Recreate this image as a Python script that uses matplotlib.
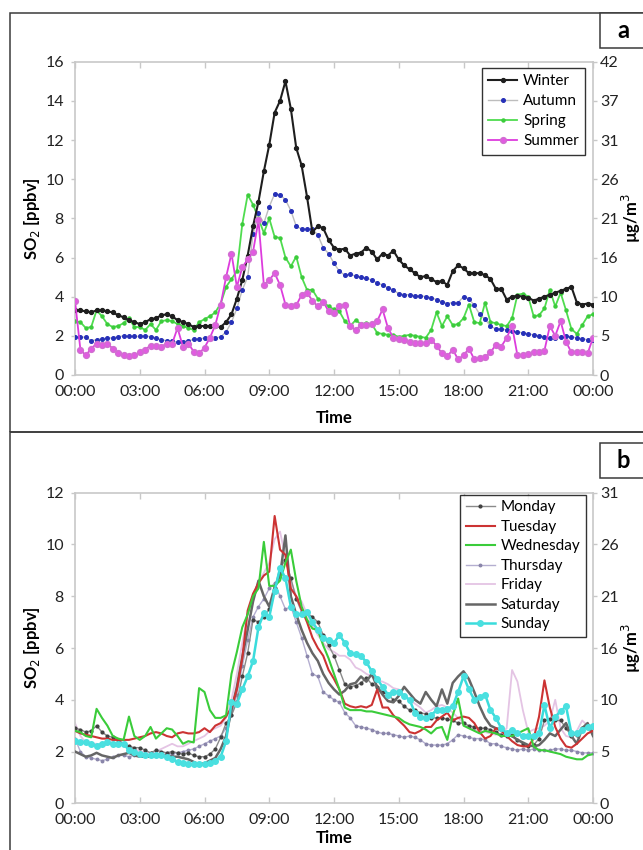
import matplotlib
matplotlib.use("Agg")
import matplotlib.pyplot as plt
from matplotlib.patches import Rectangle
import numpy as np

plt.rcParams['font.family'] = ['Lato', 'DejaVu Sans']

# 15-minute samples from 00:00 to 24:00 (97 points), SO2 in ppbv
times = np.arange(97) * 0.25
xtick_pos = [0, 3, 6, 9, 12, 15, 18, 21, 24]
xtick_labels = ['00:00', '03:00', '06:00', '09:00', '12:00', '15:00', '18:00', '21:00', '00:00']

# ---- panel a: seasons
winter = [3.3, 3.3, 3.25, 3.2, 3.3, 3.3, 3.25, 3.2, 3.05, 2.95, 2.8, 2.7,
          2.6, 2.7, 2.85, 2.9, 3.05, 3.1, 3.0, 2.8, 2.7, 2.6, 2.45, 2.5,
          2.5, 2.5, 2.5, 2.45, 2.7, 3.1, 3.9, 4.85, 6.1, 7.6, 8.85, 10.4,
          11.75, 13.4, 14.0, 15.0, 13.6, 11.6, 10.7, 9.1, 7.3, 7.6, 7.5, 6.9,
          6.5, 6.4, 6.45, 6.1, 6.2, 6.25, 6.5, 6.3, 5.9, 6.2, 6.1, 6.35,
          5.9, 5.6, 5.4, 5.2, 5.0, 5.05, 4.9, 4.75, 4.8, 4.6, 5.3, 5.6,
          5.45, 5.2, 5.2, 5.2, 5.1, 4.9, 4.4, 4.4, 3.85, 4.0, 4.05, 4.0,
          3.95, 3.8, 3.9, 4.0, 4.1, 4.2, 4.3, 4.4, 4.5, 3.7, 3.6, 3.65, 3.6]
autumn = [1.95, 1.95, 1.92, 1.75, 1.8, 1.85, 1.87, 1.9, 1.95, 2.0, 1.97, 1.97,
          1.97, 2.0, 1.95, 1.9, 1.8, 1.75, 1.72, 1.68, 1.7, 1.75, 1.82, 1.86,
          1.87, 1.88, 1.88, 1.95, 2.2, 2.7, 3.4, 4.35, 5.0, 7.2, 8.25, 7.75,
          8.6, 9.25, 9.2, 8.95, 8.4, 7.6, 7.45, 7.45, 7.45, 7.15, 6.5, 6.2,
          5.7, 5.3, 5.1, 5.15, 5.05, 5.0, 4.95, 4.85, 4.7, 4.6, 4.45, 4.35,
          4.15, 4.1, 4.1, 4.05, 4.05, 4.0, 3.95, 3.85, 3.75, 3.65, 3.7, 3.7,
          4.0, 3.9, 3.55, 3.1, 2.85, 2.5, 2.35, 2.35, 2.3, 2.25, 2.2, 2.15,
          2.1, 2.05, 2.0, 1.95, 1.9, 1.9, 1.95, 1.98, 1.95, 1.9, 1.85, 1.8, 1.8]
spring = [2.75, 2.7, 2.4, 2.45, 3.3, 3.0, 2.6, 2.45, 2.5, 2.65, 2.9, 2.45,
          2.45, 2.3, 2.6, 2.3, 2.75, 2.8, 2.75, 2.6, 2.5, 2.4, 2.3, 2.7,
          2.85, 3.0, 3.2, 3.65, 4.5, 4.9, 5.3, 7.7, 9.2, 8.7, 8.0, 7.25,
          8.0, 7.05, 7.0, 6.0, 5.55, 6.05, 5.0, 4.35, 4.35, 3.9, 3.75, 3.5,
          3.35, 3.25, 2.75, 2.5, 2.8, 2.6, 2.65, 2.6, 2.15, 2.1, 2.05, 2.05,
          1.95, 2.0, 2.05, 2.0, 1.95, 1.9, 2.3, 3.2, 2.5, 3.0, 2.55, 2.6,
          2.9, 3.6, 2.7, 2.65, 3.7, 2.7, 2.65, 2.55, 2.5, 2.9, 4.1, 4.15,
          4.0, 3.0, 3.05, 3.4, 4.35, 3.5, 4.2, 3.3, 2.35, 2.1, 2.55, 3.0, 3.1]
summer = [3.8, 1.3, 1.0, 1.35, 1.6, 1.55, 1.6, 1.35, 1.1, 1.0, 0.97, 1.0,
          1.15, 1.3, 1.5, 1.5, 1.45, 1.6, 1.6, 2.4, 1.45, 1.6, 1.2, 1.1,
          1.4, 1.9, 2.55, 3.6, 5.0, 6.2, 4.5, 5.5, 5.9, 6.3, 7.9, 4.6,
          4.85, 5.2, 4.6, 3.6, 3.5, 3.55, 4.1, 4.2, 3.8, 3.5, 3.75, 3.25,
          3.15, 3.5, 3.6, 2.5, 2.3, 2.55, 2.55, 2.6, 2.75, 3.35, 2.4, 1.9,
          1.85, 1.8, 1.7, 1.65, 1.63, 1.63, 1.8, 1.5, 1.1, 0.95, 1.3, 0.8,
          1.0, 1.35, 0.8, 0.85, 0.9, 1.15, 1.55, 1.45, 1.9, 2.5, 1.0, 1.0,
          1.05, 1.15, 1.2, 1.25, 2.5, 2.0, 2.75, 1.7, 1.15, 1.15, 1.15, 1.1, 1.9]

# ---- panel b: days of the week
monday = [2.9, 2.85, 2.75, 2.8, 3.0, 2.75, 2.6, 2.55, 2.45, 2.3, 2.2, 2.15,
          2.15, 2.05, 1.95, 2.05, 2.0, 1.95, 2.0, 1.95, 1.9, 1.95, 1.85, 1.8,
          1.8, 1.9, 2.1, 2.55, 3.1, 3.4, 3.9, 4.9, 5.8, 7.1, 7.0, 7.2,
          7.5, 8.3, 9.1, 9.4, 8.7, 7.9, 7.4, 7.35, 7.2, 7.0, 6.5, 6.1,
          5.7, 5.15, 4.6, 4.5, 4.55, 4.65, 4.85, 4.6, 4.5, 4.3, 4.2, 4.0,
          3.95, 3.75, 3.6, 3.6, 3.5, 3.45, 3.3, 3.3, 3.3, 3.25, 3.2, 3.1,
          3.1, 3.0, 2.95, 2.9, 2.9, 2.85, 2.75, 2.65, 2.6, 2.65, 2.45, 2.3,
          2.2, 2.25, 2.5, 3.2, 3.25, 3.2, 3.2, 2.9, 2.6, 2.65, 2.9, 3.0, 3.0]
tuesday = [2.8, 2.7, 2.65, 2.6, 2.55, 2.5, 2.5, 2.45, 2.45, 2.45, 2.45, 2.5,
           2.55, 2.6, 2.7, 2.75, 2.7, 2.6, 2.55, 2.7, 2.75, 2.7, 2.7, 2.75,
           2.9, 2.75, 3.0, 3.1, 3.35, 3.7, 4.4, 5.6, 7.45, 8.1, 8.5, 8.8,
           8.95, 11.1, 9.8, 9.6, 8.3, 8.0, 7.5, 7.0, 6.4, 6.0, 5.7, 5.15,
           4.8, 4.4, 3.85, 3.75, 3.7, 3.75, 3.7, 3.8, 4.4, 3.7, 3.7, 3.4,
           3.2, 3.0, 2.75, 2.7, 2.8, 2.95, 2.95, 3.2, 3.35, 3.5, 3.2, 3.3,
           3.35, 3.3, 3.1, 2.75, 2.5, 2.6, 2.9, 2.8, 2.6, 2.4, 2.25, 2.2,
           2.2, 2.5, 3.35, 4.75, 3.7, 2.95, 2.5, 2.2, 2.15, 2.3, 2.5, 2.7, 2.8]
wednesday = [2.8, 2.75, 2.6, 2.55, 3.65, 3.3, 3.0, 2.6, 2.5, 2.45, 3.35, 2.6,
             2.45, 2.6, 2.95, 2.5, 2.7, 2.9, 2.85, 2.6, 2.3, 2.4, 2.35, 4.45,
             4.3, 3.6, 3.3, 3.3, 3.4, 5.0, 5.85, 6.8, 7.3, 8.0, 8.3, 10.1,
             8.4, 8.4, 8.6, 9.3, 9.8, 8.6, 7.6, 7.1, 6.75, 6.7, 6.1, 5.6,
             5.0, 4.4, 3.7, 3.6, 3.6, 3.6, 3.55, 3.55, 3.5, 3.45, 3.4, 3.35,
             3.3, 3.15, 3.05, 3.0, 2.95, 2.85, 2.7, 2.9, 2.95, 2.45, 3.4, 4.05,
             3.0, 2.9, 2.8, 2.7, 2.8, 2.75, 2.7, 2.6, 2.6, 2.6, 2.7, 2.8,
             2.9, 2.2, 2.05, 2.05, 2.0, 1.95, 1.9, 1.8, 1.75, 1.7, 1.7, 1.85, 1.9]
thursday = [2.5, 2.0, 1.8, 1.75, 1.7, 1.65, 1.7, 1.8, 1.85, 1.85, 1.8, 1.85,
            1.9, 1.9, 1.85, 1.9, 1.95, 1.95, 1.9, 1.95, 2.0, 2.05, 2.1, 2.2,
            2.3, 2.4, 2.5, 2.6, 2.9, 3.4, 4.2, 5.3, 6.3, 7.2, 7.6, 7.9,
            8.3, 8.5, 8.0, 7.5, 7.6, 7.0, 6.4, 5.7, 5.0, 4.9, 4.3, 4.15,
            4.0, 3.9, 3.5, 3.3, 3.0, 2.95, 2.9, 2.85, 2.75, 2.7, 2.7, 2.65,
            2.6, 2.55, 2.6, 2.55, 2.45, 2.3, 2.25, 2.25, 2.25, 2.3, 2.45, 2.65,
            2.6, 2.55, 2.5, 2.5, 2.45, 2.3, 2.3, 2.2, 2.15, 2.1, 2.05, 2.1,
            2.05, 2.1, 2.05, 2.05, 2.05, 2.1, 2.1, 2.05, 2.05, 2.0, 1.95, 1.95, 1.95]
friday = [3.1, 2.6, 2.35, 2.3, 2.3, 2.25, 2.25, 2.4, 2.5, 2.3, 2.2, 2.1,
          2.0, 2.0, 1.95, 2.0, 2.1, 2.2, 2.3, 2.2, 2.2, 2.3, 2.4, 2.5,
          2.6, 2.8, 2.9, 3.0, 3.3, 4.0, 5.0, 6.2, 7.3, 8.0, 8.6, 8.9,
          9.3, 10.2, 10.5, 9.5, 8.6, 8.0, 7.8, 7.3, 6.9, 6.5, 6.2, 5.95,
          5.85, 5.7, 5.7, 5.55, 5.25, 5.15, 5.0, 4.9, 4.75, 4.7, 4.6, 4.45,
          4.4, 4.15, 4.0, 3.85, 3.7, 3.5, 3.6, 3.75, 3.8, 3.7, 3.5, 3.3,
          3.1, 2.95, 2.85, 2.8, 2.75, 2.7, 2.65, 2.7, 2.9, 5.15, 4.7, 3.6,
          2.75, 2.85, 2.9, 3.0, 3.2, 4.0, 2.9, 2.6, 2.55, 2.8, 3.2, 3.0, 3.0]
saturday = [2.0, 1.9, 1.8, 1.85, 1.95, 1.85, 1.8, 1.75, 1.85, 1.9, 1.95, 1.85,
            1.8, 1.8, 1.8, 1.85, 1.85, 1.85, 1.8, 1.8, 1.75, 1.7, 1.6, 1.5,
            1.55, 1.65, 1.75, 2.1, 2.6, 3.6, 4.5, 5.65, 6.7, 7.8, 8.6, 8.0,
            7.6, 8.35, 8.8, 10.35, 8.0, 7.3, 6.7, 6.2, 5.8, 5.5, 5.0, 4.65,
            4.4, 4.2, 4.35, 4.6, 4.65, 4.9, 4.7, 5.0, 4.5, 4.2, 3.95, 3.9,
            4.15, 4.5, 4.25, 4.0, 3.85, 4.3, 4.0, 3.75, 4.4, 3.85, 4.65, 4.9,
            5.1, 4.8, 4.3, 3.75, 3.3, 3.0, 2.9, 2.85, 2.7, 2.6, 2.45, 2.35,
            2.25, 2.2, 2.25, 2.45, 2.7, 2.6, 2.85, 3.1, 2.6, 2.3, 2.9, 3.1, 2.6]
sunday = [2.4, 2.35, 2.35, 2.3, 2.2, 2.3, 2.35, 2.3, 2.3, 2.3, 2.05, 2.0,
          1.9, 1.85, 1.85, 1.85, 1.85, 1.8, 1.7, 1.6, 1.55, 1.5, 1.5, 1.5,
          1.5, 1.55, 1.65, 1.8, 2.4, 3.9, 3.85, 4.4, 4.9, 5.5, 6.8, 7.35,
          7.2, 8.2, 9.1, 8.7, 7.6, 7.3, 7.3, 7.4, 7.0, 6.7, 6.4, 6.3,
          6.2, 6.5, 6.2, 5.8, 5.75, 5.7, 5.45, 5.1, 4.8, 4.5, 4.2, 4.3,
          4.3, 4.15, 4.0, 3.5, 3.35, 3.3, 3.4, 3.6, 3.6, 3.65, 3.75, 4.3,
          4.9, 4.4, 4.0, 4.1, 4.2, 3.6, 3.3, 2.9, 2.7, 2.85, 2.7, 2.6,
          2.6, 2.6, 2.7, 3.8, 2.9, 3.35, 3.55, 3.75, 2.7, 2.7, 2.85, 2.95, 3.0]

# right axis labels (ug/m3) shown at every 2 ppbv
right_a = ['0', '5', '10', '16', '21', '26', '31', '37', '42']
right_b = ['0', '5', '10', '16', '21', '26', '31']

W, H = 643, 850
fig = plt.figure(figsize=(W / 100, H / 100), dpi=100)
fig.patch.set_facecolor('white')


def fx(px):
    return px / W


def fy(py):
    return 1 - py / H


# panel frames and corner letters (right edge runs off the picture)
for top, bot, letter, ltop in [(13, 432, 'a', 13), (432, 860, 'b', 443)]:
    fig.add_artist(Rectangle((fx(10), fy(bot)), fx(660) - fx(10), fy(top) - fy(bot),
                             transform=fig.transFigure, fill=False,
                             edgecolor='#3a3a3a', lw=1.1))
    fig.add_artist(Rectangle((fx(600), fy(ltop + 35)), fx(60), fy(ltop) - fy(ltop + 35),
                             transform=fig.transFigure, facecolor='white',
                             edgecolor='#3a3a3a', lw=1.1))
    fig.text(fx(623), fy(ltop + 18), letter, fontsize=17, fontweight='bold',
             ha='center', va='center')


def style_axes(ax, ymax, ystep, right_labels, top_px, bot_px, time_pad):
    ax.set_xlim(0, 24)
    ax.set_ylim(0, ymax)
    ax.set_xticks(xtick_pos)
    ax.set_xticklabels(xtick_labels)
    ax.set_yticks(np.arange(0, ymax + 0.1, ystep))
    for s in ax.spines.values():
        s.set_color('#c8c8c8')
        s.set_linewidth(1.2)
    ax.tick_params(axis='both', labelsize=11.5, colors='#c8c8c8', labelcolor='#222222',
                   length=3, width=1)
    ax.tick_params(axis='y', pad=5)
    ax.tick_params(axis='x', top=True, direction='in', length=4, pad=7)
    ax.set_xlabel('Time', fontsize=12, fontweight='bold', labelpad=time_pad)
    mid = fy((top_px + bot_px) / 2)
    fig.text(fx(32), mid, 'SO$_2$ [ppbv]', fontsize=12, fontweight='bold',
             rotation=90, ha='center', va='center')
    fig.text(fx(631), mid, 'µg/m$^3$', fontsize=12, fontweight='bold',
             rotation=90, ha='center', va='center')
    ax2 = ax.twinx()
    ax2.set_ylim(0, ymax)
    ax2.set_yticks(np.arange(0, ymax + 0.1, ystep))
    ax2.set_yticklabels(right_labels)
    ax2.tick_params(axis='y', labelsize=11.5, colors='#c8c8c8', labelcolor='#222222',
                    length=3, width=1, pad=2)
    for s in ax2.spines.values():
        s.set_visible(False)
    return ax2


# ---- panel a
axa = fig.add_axes([fx(75), fy(375), fx(518), fy(61.7) - fy(375)])
axa.plot(times, winter, color='#1e1e1e', lw=1.5, marker='o', ms=2.8, label='Winter', zorder=5)
axa.plot(times, autumn, color='#bdbdbd', lw=1, marker='o', ms=2.6, mfc='#2630b8',
         mec='#2630b8', label='Autumn', zorder=4)
axa.plot(times, spring, color='#4fdc4f', lw=1.3, marker='o', ms=2.2, mfc='#3ccc3c',
         mec='#3ccc3c', label='Spring', zorder=3)
axa.plot(times, summer, color='#dd3cdd', lw=1.3, marker='o', ms=4.2, mfc='#e25ae2',
         mec='#d070d0', label='Summer', zorder=6)
style_axes(axa, 16, 2, right_a, 61.7, 375, 8)
leg = axa.legend(loc='upper right', bbox_to_anchor=(fx(585), fy(68)),
                 bbox_transform=fig.transFigure, borderaxespad=0, fontsize=11,
                 frameon=True, fancybox=False, handlelength=1.9, labelspacing=0.4,
                 handletextpad=0.4, borderpad=0.4)
leg.get_frame().set_edgecolor('black')
leg.get_frame().set_linewidth(1)

# ---- panel b
axb = fig.add_axes([fx(75), fy(803.3), fx(518), fy(492.7) - fy(803.3)])
axb.plot(times, monday, color='#8a8a8a', lw=1, marker='o', ms=2, mfc='#404040',
         mec='#404040', label='Monday', zorder=4)
axb.plot(times, tuesday, color='#cc3333', lw=1.5, label='Tuesday', zorder=5)
axb.plot(times, wednesday, color='#3acc3a', lw=1.5, label='Wednesday', zorder=5)
axb.plot(times, thursday, color='#b4aed0', lw=1, marker='o', ms=1.8, mfc='#8a86aa',
         mec='#8a86aa', label='Thursday', zorder=3)
axb.plot(times, friday, color='#e4c4e4', lw=1.3, label='Friday', zorder=2)
axb.plot(times, saturday, color='#666666', lw=1.8, label='Saturday', zorder=4)
axb.plot(times, sunday, color='#3adcdc', lw=1.8, marker='o', ms=4, mfc='#4ae0e0',
         mec='#4ae0e0', label='Sunday', zorder=6)
style_axes(axb, 12, 2, right_b, 492.7, 803.3, 2)
leg = axb.legend(loc='upper right', bbox_to_anchor=(fx(586), fy(495)),
                 bbox_transform=fig.transFigure, borderaxespad=0, fontsize=11,
                 frameon=True, fancybox=False, handlelength=1.9, labelspacing=0.36,
                 handletextpad=0.4, borderpad=0.35)
leg.get_frame().set_edgecolor('black')
leg.get_frame().set_linewidth(1)

fig.savefig('out.png', dpi=100, facecolor='white')
